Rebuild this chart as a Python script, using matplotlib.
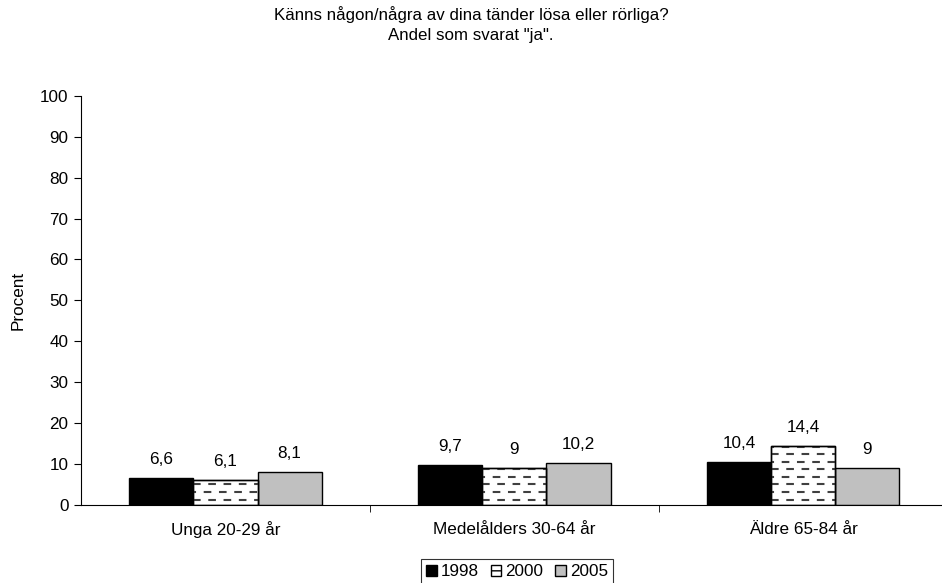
import numpy as np
import matplotlib.pyplot as plt
from matplotlib.patches import Patch

plt.rcParams['font.family'] = ['Liberation Sans', 'DejaVu Sans']

title = 'Känns någon/några av dina tänder lösa eller rörliga?\nAndel som svarat "ja".'
groups = ['Unga 20-29 år', 'Medelålders 30-64 år', 'Äldre 65-84 år']
years = ['1998', '2000', '2005']
v1998 = [6.6, 9.7, 10.4]
v2000 = [6.1, 9.0, 14.4]
v2005 = [8.1, 10.2, 9.0]

fs = 12.3

fig = plt.figure(figsize=(9.42, 5.83), dpi=100)
ax = fig.add_axes([0.086, 0.134, 0.92, 0.7015])

x = np.arange(len(groups))
w = 0.222

b1 = ax.bar(x - w, v1998, w, color='black', edgecolor='black', linewidth=1)
b2 = ax.bar(x, v2000, w, color='white', edgecolor='black', linewidth=1, zorder=3)
b3 = ax.bar(x + w, v2005, w, color='#c0c0c0', edgecolor='black', linewidth=1)

# dashed fill for the 2000 bars, alternating rows slightly shifted
step = 1.85
dash = 5.5 / 1.5  # dash lengths get scaled by the line width
for rect in b2:
    x0, x1 = rect.get_x(), rect.get_x() + rect.get_width()
    rows = np.arange(step * 0.7, rect.get_height(), step)
    for i, yy in enumerate(rows):
        off = 0 if i % 2 == 0 else dash * 0.6
        ln, = ax.plot([x0, x1], [yy, yy], color='#404040', lw=1.5,
                      linestyle=(off, (dash, dash)), zorder=3.5,
                      dash_capstyle='butt')
        ln.set_clip_path(rect)
    # redraw the outline over the dashes
    ax.bar(rect.get_x() + rect.get_width() / 2, rect.get_height(), w,
           fill=False, edgecolor='black', linewidth=1, zorder=4)

for bars, vals in [(b1, v1998), (b2, v2000), (b3, v2005)]:
    for rect, v in zip(bars, vals):
        ax.annotate(f'{v:g}'.replace('.', ','),
                    (rect.get_x() + rect.get_width() / 2, v),
                    xytext=(0, 8), textcoords='offset points',
                    ha='center', va='bottom', fontsize=fs)

ax.set_xlim(-0.5, 2.5)
ax.set_ylim(0, 100)
ax.set_yticks(range(0, 101, 10))
ax.set_xticks(x)
ax.set_xticklabels(groups, fontsize=fs)
ax.set_xticks([0.5, 1.5], minor=True)
ax.tick_params(axis='x', which='major', length=0, pad=12)
ax.tick_params(axis='x', which='minor', length=5, direction='out')
ax.tick_params(axis='y', labelsize=fs, length=5, direction='out', pad=4)
for s in ['top', 'right']:
    ax.spines[s].set_visible(False)
ax.set_ylabel('Procent', fontsize=fs, labelpad=10)

fig.text(0.5, 0.99, title, ha='center', va='top', fontsize=12.2,
         linespacing=1.45)

handles = [Patch(facecolor='black', edgecolor='black'),
           Patch(facecolor='white', edgecolor='black', hatch='--'),
           Patch(facecolor='#c0c0c0', edgecolor='black')]
leg = fig.legend(handles, years, loc='upper center', bbox_to_anchor=(0.549, 0.041),
                 ncol=3, frameon=True, fancybox=False, edgecolor='black',
                 fontsize=fs, handlelength=0.6, handleheight=0.6,
                 handletextpad=0.25, columnspacing=0.7, borderpad=0.3,
                 borderaxespad=0)
leg.get_frame().set_linewidth(0.8)

fig.savefig('out.png', dpi=100)
